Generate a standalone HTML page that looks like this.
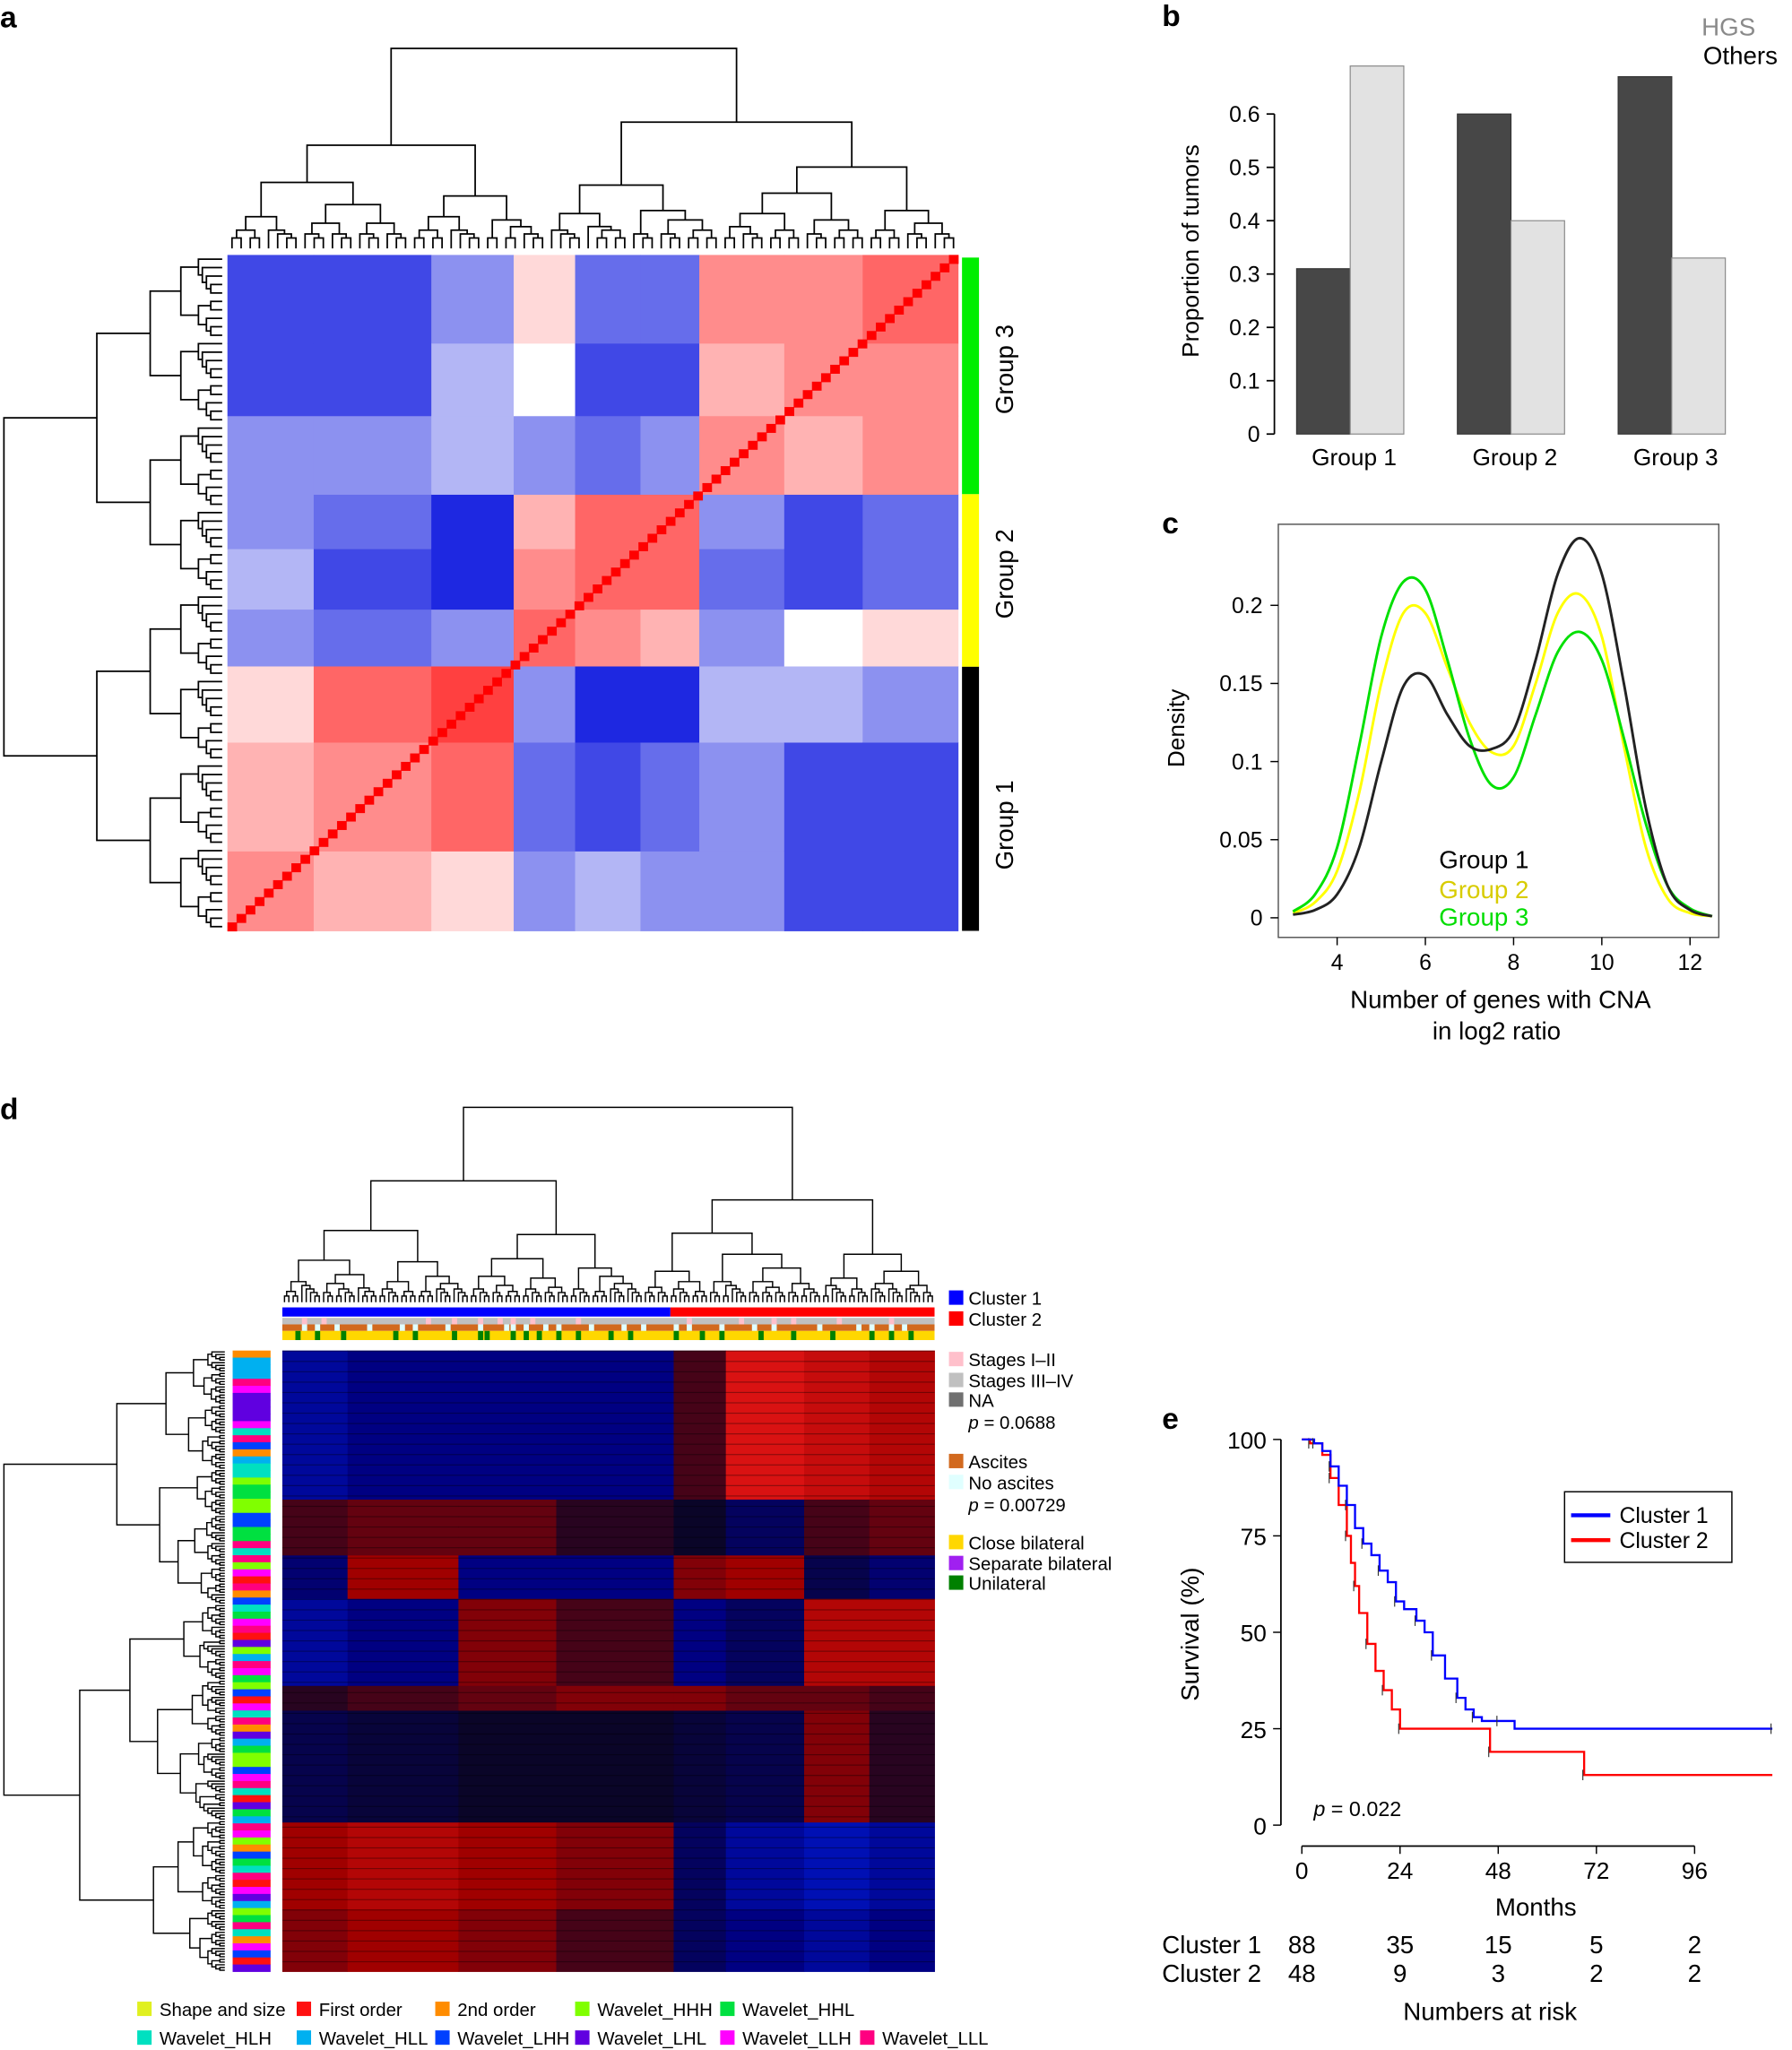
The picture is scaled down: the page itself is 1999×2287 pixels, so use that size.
<!DOCTYPE html>
<html><head><meta charset="utf-8">
<style>
html,body{margin:0;padding:0;background:#fff;}
svg{display:block;font-family:"Liberation Sans",Arial,sans-serif;}
</style></head>
<body>
<svg id="fig" width="1999" height="2287" viewBox="0 0 1371 1568" preserveAspectRatio="none" xmlns="http://www.w3.org/2000/svg">
<rect width="1371" height="1568" fill="#fff"/>
<text x="0" y="21" font-size="23" font-weight="bold">a</text>
<text x="889" y="20" font-size="23" font-weight="bold">b</text>
<text x="889" y="408" font-size="23" font-weight="bold">c</text>
<text x="0" y="856" font-size="23" font-weight="bold">d</text>
<text x="889" y="1093" font-size="23" font-weight="bold">e</text>
<g id="ga"></g>
<g id="gb"></g>
<g id="gc"></g>
<g id="gd"></g>
<g id="ge"></g>
</svg>
<script>
// ---------- DATA ----------
const aSegBounds = [0, 66, 156, 219, 266, 316, 361, 426, 486, 559];
const aCorr = [
 [0.3,0.2,0.1,-0.3,-0.2,-0.3,-0.3,-0.5,-0.5],
 [0.2,0.3,0.4,-0.4,-0.5,-0.4,-0.3,-0.5,-0.5],
 [0.1,0.4,0.5,-0.3,-0.6,-0.6,-0.2,-0.2,-0.3],
 [-0.3,-0.4,-0.3,0.4,0.3,0.2,-0.3,0.0,0.1],
 [-0.2,-0.5,-0.6,0.3,0.4,0.4,-0.4,-0.5,-0.4],
 [-0.3,-0.4,-0.6,0.2,0.4,0.4,-0.3,-0.5,-0.4],
 [-0.3,-0.3,-0.2,-0.3,-0.4,-0.3,0.3,0.2,0.3],
 [-0.5,-0.5,-0.2,0.0,-0.5,-0.5,0.2,0.3,0.3],
 [-0.5,-0.5,-0.3,0.1,-0.4,-0.4,0.3,0.3,0.4]
];
const aN = 80;
const aGroups = ["Group 3","Group 2","Group 1"];
const aGroupColors = ["#00ee00","#ffff00","#000000"];
const aGroupSpans = [[197,378],[378,510],[510,712]];

const bCats = ["Group 1","Group 2","Group 3"];
const bHGS = [0.31, 0.60, 0.67];
const bOthers = [0.69, 0.40, 0.33];
const bTicks = [0,0.1,0.2,0.3,0.4,0.5,0.6];

const cX = [3,3.5,4,4.5,5,5.5,6,6.5,7,7.5,8,8.5,9,9.5,10,10.5,11,11.5,12,12.5];
const cG1 = [0.002,0.005,0.015,0.045,0.10,0.148,0.155,0.13,0.11,0.108,0.12,0.165,0.22,0.243,0.22,0.15,0.07,0.02,0.005,0.001];
const cG2 = [0.003,0.01,0.03,0.08,0.15,0.195,0.195,0.16,0.125,0.106,0.11,0.15,0.195,0.207,0.18,0.11,0.045,0.012,0.003,0.001];
const cG3 = [0.004,0.015,0.045,0.11,0.18,0.215,0.21,0.165,0.115,0.085,0.09,0.13,0.17,0.183,0.165,0.115,0.06,0.02,0.006,0.001];
const cXTicks = [4,6,8,10,12];
const cYTicks = [0,0.05,0.1,0.15,0.2];
const cYLabels = ["0","0.05","0.1","0.15","0.2"];

const dColFrac = [0,0.1,0.27,0.42,0.6,0.68,0.8,0.9,1.0];
const dRowFrac = [0,0.24,0.33,0.4,0.54,0.58,0.76,0.9,1.0];
const dVals = [
 [-0.6,-0.5,-0.5,-0.5,0.2,0.8,0.7,0.6],
 [0.2,0.3,0.3,0.1,0,-0.3,0.2,0.3],
 [-0.4,0.5,-0.5,-0.5,0.4,0.5,-0.2,-0.4],
 [-0.6,-0.5,0.4,0.2,-0.5,-0.3,0.6,0.6],
 [0.1,0.2,0.3,0.4,0.4,0.3,0.3,0.2],
 [-0.2,-0.1,0,0,-0.1,-0.2,0.4,0.1],
 [0.5,0.6,0.5,0.4,-0.3,-0.6,-0.7,-0.6],
 [0.4,0.5,0.4,0.2,-0.3,-0.5,-0.6,-0.5]
];
const dFeatColors = ["#e0f020","#ff1010","#ff8c00","#80ff00","#00e040","#00e0c0","#00b0f0","#0040ff","#6000e0","#ff00ff","#ff0080"];
const dFeatNames = ["Shape and size","First order","2nd order","Wavelet_HHH","Wavelet_HHL","Wavelet_HLH","Wavelet_HLL","Wavelet_LHH","Wavelet_LHL","Wavelet_LLH","Wavelet_LLL"];
const dFeatSeq = [2,6,6,6,10,9,8,8,8,8,9,5,10,7,2,6,5,5,3,4,4,3,3,7,7,4,4,10,5,10,3,9,1,10,2,7,5,4,9,10,1,8,3,6,10,9,4,3,7,1,9,5,10,2,8,6,4,3,3,7,9,10,5,1,8,4,6,10,9,3,2,7,4,5,10,1,9,8,6,3,4,10,5,2,9,7,1,8];
const dClusterSplit = 0.595;
const dStageStripes = [0.03,0.06,0.22,0.26,0.3,0.33,0.35,0.38,0.45,0.62,0.7,0.75,0.78,0.85,0.93];
const dAscStripes = [0.03,0.05,0.08,0.13,0.18,0.2,0.25,0.3,0.34,0.35,0.37,0.4,0.42,0.47,0.52,0.55,0.6,0.62,0.67,0.72,0.75,0.82,0.88,0.9,0.93,0.95];
const dLatStripes = [0.02,0.05,0.09,0.17,0.2,0.26,0.3,0.31,0.35,0.37,0.39,0.42,0.45,0.5,0.53,0.6,0.64,0.67,0.73,0.78,0.84,0.9,0.93,0.96];

const eT1 = [0,3,5,7,9,11,13,15,17,19,21,23,25,28,30,32,35,38,40,42,44,48,52,115];
const eS1 = [100,99,97,93,88,83,77,73,70,66,63,58,56,53,50,44,38,33,30,28,27,27,25,25];
const eT2 = [0,2,5,7,9,11,12,13,14,16,18,20,22,24,45,46,68,69,115];
const eS2 = [100,99,96,90,83,75,68,62,55,47,40,35,30,25,25,19,19,13,13];
const eXTicks = [0,24,48,72,96];
const eYTicks = [0,25,50,75,100];
const eRisk1 = [88,35,15,5,2];
const eRisk2 = [48,9,3,2,2];

// ---------- HELPERS ----------
const NS="http://www.w3.org/2000/svg";
function mk(parent,tag,attrs,text){const e=document.createElementNS(NS,tag);for(const k in attrs)e.setAttribute(k,attrs[k]);if(text!==undefined)e.textContent=text;parent.appendChild(e);return e;}
function corrColor(v){v=Math.max(-1,Math.min(1,v));if(v>=0){const t=Math.min(1,v*1.5);return `rgb(255,${Math.round(255*(1-t))},${Math.round(255*(1-t))})`;}const t=Math.min(1,-v*1.7);return `rgb(${Math.round(255-225*t)},${Math.round(255-215*t)},${Math.round(255-30*t)})`;}
function dColor(v){if(v>=0){if(v<0.5){const t=v/0.5;return `rgb(${Math.round(10+150*t)},${Math.round(5*(1-t))},${Math.round(40*(1-t))})`;}const t=(v-0.5)/0.5;return `rgb(${Math.round(160+95*t)},${Math.round(30*t)},${Math.round(30*t)})`;}const t=Math.min(1,-v);if(t<0.5){const s=t/0.5;return `rgb(${Math.round(10*(1-s))},${Math.round(5*(1-s))},${Math.round(40+90*s)})`;}const s=(t-0.5)/0.5;return `rgb(0,${Math.round(40*s)},${Math.round(130+125*s)})`;}
function dendro(g,n,a0,a1,base,top,dir,sw,seed){
  const step=(a1-a0)/n, span=base-top;
  let d='';
  function rec(i0,cnt){
    if(cnt===1)return {pos:a0+(i0+0.5)*step,h:0};
    const fr=((i0*7+cnt*13+seed)%10)/10;
    const k=Math.max(1,Math.min(cnt-1,Math.floor(cnt*(0.35+0.3*fr))));
    const L=rec(i0,k),R=rec(i0+k,cnt-k);
    let h=Math.max(Math.max(L.h,R.h)+span*0.018, span*Math.pow(cnt/n,0.8));
    h=Math.min(h,span);
    if(dir==='top'){d+=`M${L.pos},${base-L.h}V${base-h}H${R.pos}V${base-R.h}`;}
    else {d+=`M${base-L.h},${L.pos}H${base-h}V${R.pos}H${base-R.h}`;}
    return {pos:(L.pos+R.pos)/2,h:h};
  }
  rec(0,n);
  const p=mk(g,'path',{d:d,fill:'none',stroke:'#000','stroke-width':sw});
  
  
}

// ---------- PANEL A ----------
(function(){
const g=document.getElementById('ga');
const X0=174,Y0=195,W=559,H=517;
const hm=mk(g,'g',{});
const ky=H/W;
for(let i=0;i<aCorr.length;i++){
  for(let j=0;j<aCorr.length;j++){
    const x=X0+aSegBounds[i], w=aSegBounds[i+1]-aSegBounds[i];
    const y=Y0+(W-aSegBounds[j+1])*ky, h=(aSegBounds[j+1]-aSegBounds[j])*ky;
    const r=mk(hm,'rect',{x:x,y:y,width:w+0.3,height:h+0.3,fill:corrColor(aCorr[i][j])});
    
    
  }
}
const cw=W/aN,ch=H/aN;
for(let k=0;k<aN;k++){
  const r=mk(hm,'rect',{x:X0+k*cw,y:Y0+H-(k+1)*ch,width:cw+0.4,height:ch+0.4,fill:'#ff0000'});
  
  
}
aGroups.forEach((nm,i)=>{
  const s=aGroupSpans[i];
  const r=mk(g,'rect',{x:736,y:s[0],width:13,height:s[1]-s[0],fill:aGroupColors[i]});
  
  
  const cy=(s[0]+s[1])/2+ (i===2?20:-5);
  const t=mk(g,'text',{x:0,y:0,'font-size':19,'text-anchor':'middle',transform:`translate(775,${cy}) rotate(-90)`},nm);
  
  
});
const dt=mk(g,'g',{});
dendro(dt,aN,X0,X0+W,190,37,'top',1.2,3);
const dl=mk(g,'g',{});
dendro(dl,aN,Y0,Y0+H,170,3,'left',1.2,5);
})();

// ---------- PANEL B ----------
(function(){
const g=document.getElementById('gb');
const y0=332, py=408;
const yOf=v=>y0-v*py;
mk(g,'line',{x1:975,y1:yOf(0.6),x2:975,y2:332,stroke:'#000','stroke-width':1.2});
bTicks.forEach(t=>{
  mk(g,'line',{x1:969,x2:975,y1:yOf(t),y2:yOf(t),stroke:'#000','stroke-width':1.2});
  const tx=mk(g,'text',{x:964,y:yOf(t)+6,'font-size':17,'text-anchor':'end'},t===0?'0':t.toFixed(1));
  
  
});
const gx0=992, gstep=123, bw=41;
bCats.forEach((c,i)=>{
  const x=gx0+i*gstep;
  const r1=mk(g,'rect',{x:x,y:yOf(bHGS[i]),width:bw,height:bHGS[i]*py,fill:'#474747',stroke:'#333','stroke-width':0.8});
  
  
  const r2=mk(g,'rect',{x:x+bw,y:yOf(bOthers[i]),width:bw,height:bOthers[i]*py,fill:'#e2e2e2',stroke:'#888','stroke-width':0.8});
  
  
  const t=mk(g,'text',{x:x+bw+3,y:356,'font-size':18,'text-anchor':'middle'},c);
  
  
});
let t=mk(g,'text',{x:0,y:0,'font-size':18,'text-anchor':'middle',transform:'translate(917,192) rotate(-90)'},'Proportion of tumors');

t=mk(g,'text',{x:1343,y:27,'font-size':19,'text-anchor':'end',fill:'#8a8a8a'},'HGS');

t=mk(g,'text',{x:1360,y:49,'font-size':19,'text-anchor':'end'},'Others');

})();

// ---------- PANEL C ----------
(function(){
const g=document.getElementById('gc');
const xOf=v=>1023+(v-4)*33.75, yOf=v=>702-v*1195;
const box=mk(g,'rect',{x:978,y:401,width:337,height:316,fill:'none',stroke:'#555','stroke-width':1});

cYTicks.forEach((v,i)=>{
  mk(g,'line',{x1:972,x2:978,y1:yOf(v),y2:yOf(v),stroke:'#000'});
  const t=mk(g,'text',{x:966,y:yOf(v)+6,'font-size':17,'text-anchor':'end'},cYLabels[i]);
  
});
cXTicks.forEach(v=>{
  mk(g,'line',{x1:xOf(v),x2:xOf(v),y1:717,y2:723,stroke:'#000'});
  const t=mk(g,'text',{x:xOf(v),y:742,'font-size':17,'text-anchor':'middle'},String(v));
  
});
function curve(ys,color,name){
  const pts=cX.map((x,i)=>[xOf(x),yOf(ys[i])]).filter(p=>p[0]>=980&&p[0]<=1312);
  let d=`M${pts[0][0]},${pts[0][1]}`;
  for(let i=0;i<pts.length-1;i++){
    const p0=pts[Math.max(0,i-1)],p1=pts[i],p2=pts[i+1],p3=pts[Math.min(pts.length-1,i+2)];
    d+=`C${p1[0]+(p2[0]-p0[0])/6},${p1[1]+(p2[1]-p0[1])/6} ${p2[0]-(p3[0]-p1[0])/6},${p2[1]-(p3[1]-p1[1])/6} ${p2[0]},${p2[1]}`;
  }
  const p=mk(g,'path',{d:d,fill:'none',stroke:color,'stroke-width':2});
  
}
curve(cG2,'#ffff00','density-group-2');
curve(cG3,'#00e000','density-group-3');
curve(cG1,'#222','density-group-1');
let t=mk(g,'text',{x:0,y:0,'font-size':18,'text-anchor':'middle',transform:'translate(906,557) rotate(-90)'},'Density');

t=mk(g,'text',{x:1148,y:771,'font-size':19,'text-anchor':'middle'},'Number of genes with CNA');

t=mk(g,'text',{x:1145,y:795,'font-size':19,'text-anchor':'middle'},'in log2 ratio');

[['Group 1','#000',664],['Group 2','#d8cc00',687],['Group 3','#00dd00',708]].forEach(l=>{
  const tt=mk(g,'text',{x:1101,y:l[2],'font-size':19,fill:l[1]},l[0]);
  
});
})();

// ---------- PANEL D ----------
(function(){
const g=document.getElementById('gd');
const X0=216,Y0=1033,W=499,H=475;
const hm=mk(g,'g',{});
for(let r=0;r<dVals.length;r++)for(let c=0;c<dVals[r].length;c++){
  const x=X0+dColFrac[c]*W,y=Y0+dRowFrac[r]*H;
  const rc=mk(hm,'rect',{x:x,y:y,width:(dColFrac[c+1]-dColFrac[c])*W+0.3,height:(dRowFrac[r+1]-dRowFrac[r])*H+0.3,fill:dColor(dVals[r][c])});
  
  
}
for(let i=0;i<60;i++){
  mk(hm,'rect',{x:X0,y:Y0+i*H/60,width:W,height:0.8,fill:'#000',opacity:0.35});
}
const dt=mk(g,'g',{});
dendro(dt,150,X0,X0+W,996,847,'top',1,7);
const dl=mk(g,'g',{});
dendro(dl,230,Y0,Y0+H,172,3,'left',1,2);
let r=mk(g,'rect',{x:X0,y:1000,width:W*dClusterSplit,height:7,fill:'#0000ff'});

r=mk(g,'rect',{x:X0+W*dClusterSplit,y:1000,width:W*(1-dClusterSplit),height:7,fill:'#ff0000'});

function annot(y,h,base,stripes,color,name){
  const rr=mk(g,'rect',{x:X0,y:y,width:W,height:h,fill:base});
  
  stripes.forEach(s=>mk(g,'rect',{x:X0+s*W,y:y,width:4,height:h,fill:color}));
}
annot(1008,5,'#c0c0c0',dStageStripes,'#ffc0cb','stage-annotation');
annot(1013,5,'#d2691e',dAscStripes,'#e0ffff','ascites-annotation');
annot(1018,7,'#ffd700',dLatStripes,'#008000','laterality-annotation');
const fb=mk(g,'g',{});
const sh=H/dFeatSeq.length;
dFeatSeq.forEach((k,i)=>mk(fb,'rect',{x:178,y:Y0+i*sh,width:29,height:sh+0.3,fill:dFeatColors[k]}));
const leg=[['#0000ff','Cluster 1',998],['#ff0000','Cluster 2',1014],['#ffc0cb','Stages I–II',1045],['#c0c0c0','Stages III–IV',1061],['#707070','NA',1076],['#d2691e','Ascites',1123],['#e0ffff','No ascites',1139],['#ffd700','Close bilateral',1185],['#a020f0','Separate bilateral',1201],['#008000','Unilateral',1216]];
leg.forEach(l=>{
  const s=mk(g,'rect',{x:726,y:l[2]-11,width:11,height:11,fill:l[0]});
  
  const t=mk(g,'text',{x:741,y:l[2],'font-size':14},l[1]);
  
});
[['p = 0.0688',1093],['p = 0.00729',1156]].forEach(p=>{
  const t=mk(g,'text',{x:741,y:p[1],'font-size':14});
  mk(t,'tspan',{'font-style':'italic'},'p');
  mk(t,'tspan',{},p[0].slice(1));
  
});
const bx=[105,227,333,440,551,105,227,333,440,551,658];
const by=[1542,1542,1542,1542,1542,1564,1564,1564,1564,1564,1564];
dFeatNames.forEach((nm,i)=>{
  const s=mk(g,'rect',{x:bx[i],y:by[i]-11,width:11,height:11,fill:dFeatColors[i]});
  
  const t=mk(g,'text',{x:bx[i]+17,y:by[i],'font-size':14},nm);
  
});
})();

// ---------- PANEL E ----------
(function(){
const g=document.getElementById('ge');
const xOf=m=>996+m*3.13, yOf=s=>1396-s*2.95;
mk(g,'line',{x1:980,x2:980,y1:yOf(100),y2:yOf(0),stroke:'#000','stroke-width':1.2});
mk(g,'line',{x1:xOf(0),x2:xOf(96),y1:1412,y2:1412,stroke:'#000','stroke-width':1.2});
eYTicks.forEach(v=>{
  mk(g,'line',{x1:974,x2:980,y1:yOf(v),y2:yOf(v),stroke:'#000'});
  const t=mk(g,'text',{x:969,y:yOf(v)+7,'font-size':18,'text-anchor':'end'},String(v));
  
});
eXTicks.forEach(v=>{
  mk(g,'line',{x1:xOf(v),x2:xOf(v),y1:1412,y2:1418,stroke:'#000'});
  const t=mk(g,'text',{x:xOf(v),y:1437,'font-size':18,'text-anchor':'middle'},String(v));
  
});
function km(T,S,color,name){
  let d=`M${xOf(T[0])},${yOf(S[0])}`;
  for(let i=1;i<T.length;i++){d+=`H${xOf(T[i])}V${yOf(S[i])}`;}
  const p=mk(g,'path',{d:d,fill:'none',stroke:color,'stroke-width':1.6});
  
  for(let i=1;i<T.length;i+=2){mk(g,'line',{x1:xOf(T[i])-1,x2:xOf(T[i])-1,y1:yOf(S[i])-4,y2:yOf(S[i])+4,stroke:'#333','stroke-width':0.8});}
}
km(eT2,eS2,'#ff0000','survival-cluster-2');
km(eT1,eS1,'#0000ff','survival-cluster-1');
const lb=mk(g,'rect',{x:1197,y:1141,width:128,height:54,fill:'#fff',stroke:'#000','stroke-width':1});

[['#0000ff','Cluster 1',1159],['#ff0000','Cluster 2',1178]].forEach(l=>{
  mk(g,'line',{x1:1202,x2:1232,y1:l[2],y2:l[2],stroke:l[0],'stroke-width':3});
  const t=mk(g,'text',{x:1239,y:l[2]+6,'font-size':17},l[1]);
  
});
let t=mk(g,'text',{x:1005,y:1389,'font-size':16});
mk(t,'tspan',{'font-style':'italic'},'p');mk(t,'tspan',{},' = 0.022');

t=mk(g,'text',{x:1175,y:1465,'font-size':19,'text-anchor':'middle'},'Months');

t=mk(g,'text',{x:0,y:0,'font-size':19,'text-anchor':'middle',transform:'translate(917,1250) rotate(-90)'},'Survival (%)');

t=mk(g,'text',{x:889,y:1494,'font-size':19},'Cluster 1');
t=mk(g,'text',{x:889,y:1516,'font-size':19},'Cluster 2');
eXTicks.forEach((v,i)=>{
  let a=mk(g,'text',{x:xOf(v),y:1494,'font-size':19,'text-anchor':'middle'},String(eRisk1[i]));
  
  a=mk(g,'text',{x:xOf(v),y:1516,'font-size':19,'text-anchor':'middle'},String(eRisk2[i]));
  
});
t=mk(g,'text',{x:1140,y:1545,'font-size':19,'text-anchor':'middle'},'Numbers at risk');

})();
</script>
</body></html>
